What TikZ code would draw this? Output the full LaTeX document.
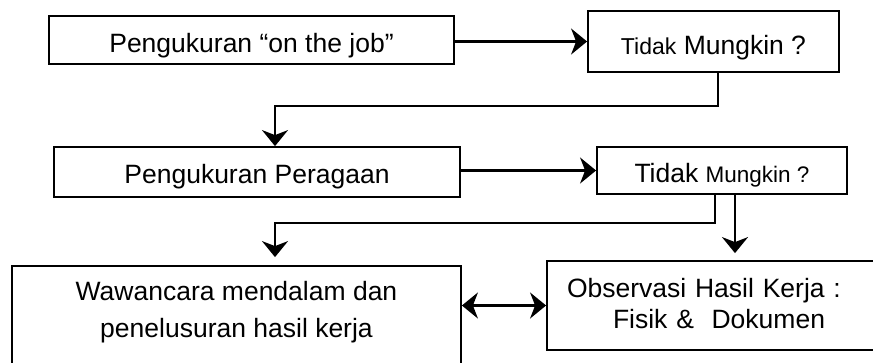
\documentclass[tikz,border=0pt]{standalone}
\usepackage{fontspec}
\setmainfont{Liberation Sans}
\usetikzlibrary{arrows.meta, positioning, calc}

\begin{document}
\begin{tikzpicture}[x=1pt, y=-1pt,
  box/.style={draw, line width=1.8pt, inner sep=0pt, align=center, font=\fontsize{26.5}{37}\selectfont},
  arr/.style={line width=2.4pt, -{Stealth[length=16pt, width=26pt, inset=5pt]}},
  arrd/.style={line width=2.4pt, {Stealth[length=16pt, width=26pt, inset=5pt]}-{Stealth[length=16pt, width=26pt, inset=5pt]}}]
% --- AREA GAMBAR ---
\useasboundingbox (0,0) rectangle (873,362);
\clip (0,0) rectangle (873,362);

% BARIS 1: Pengukuran on the job
\node[box, minimum width=405pt, minimum height=48pt, text height=24pt, text depth=0pt] (onjob) at (251.5,40) {Pengukuran “on the job”};
\node[box, minimum width=251pt, minimum height=61pt, text height=25pt, text depth=0pt] (tidak1) at (713.5,41.5) {{\fontsize{23}{28}\selectfont Tidak} Mungkin ?};

% BARIS 2: Pengukuran peragaan
\node[box, minimum width=406pt, minimum height=50pt, text height=22pt, text depth=0pt] (peragaan) at (257,172) {Pengukuran Peragaan};
\node[box, minimum width=250pt, minimum height=47pt, text height=23pt, text depth=0pt] (tidak2) at (722,170.5) {Tidak {\fontsize{22.5}{28}\selectfont Mungkin ?}};

% BARIS 3: Wawancara dan observasi
\node[box, minimum width=449pt, minimum height=134pt, text height=57pt, text depth=49pt] (wawancara) at (236.5,333) {Wawancara mendalam dan\\penelusuran hasil kerja};
\node[box, font=\fontsize{26.5}{31}\selectfont, align=left, text width=340pt, inner xsep=20pt, minimum height=89pt, text height=20pt, text depth=37pt] (observasi) at (737,305.5) {Observasi Hasil Kerja :\\\hspace*{46pt}Fisik \&~ Dokumen};

% titik belok
\coordinate (belokA) at (275,106);
\coordinate (belokB) at (275,223);

% PANAH
\draw[arr] (onjob.east |- tidak1.west) -- (tidak1.west);
\draw[arr] ([xshift=4.5pt]tidak1.south) |- (belokA) -- (belokA |- peragaan.north);
\draw[arr] ([yshift=1.5pt]peragaan.east) -- ([yshift=1.5pt]peragaan.east -| tidak2.west);
\draw[arr, shorten >=8pt] ([xshift=-7pt]tidak2.south) |- (belokB) -- (belokB |- wawancara.north);
\draw[arr, shorten >=7pt] ([xshift=13pt]tidak2.south) -- ([xshift=13pt]tidak2.south |- observasi.north);
\draw[arrd] (wawancara.east |- observasi.west) -- (observasi.west);
\end{tikzpicture}
\end{document}
